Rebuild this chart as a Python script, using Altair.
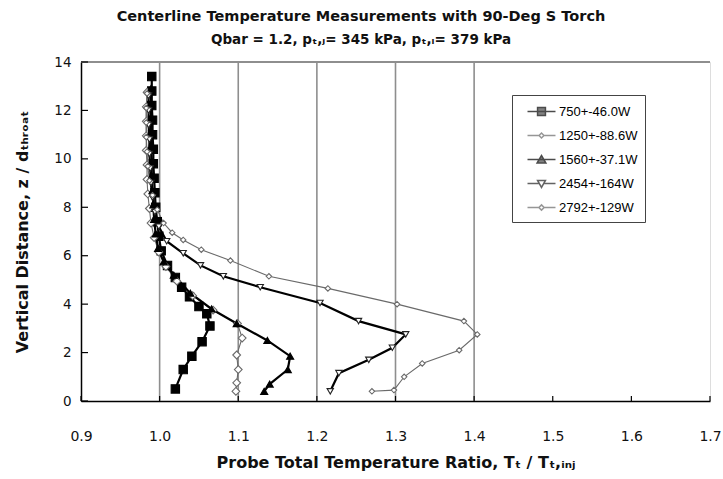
import altair as alt
import pandas as pd

# ---- data -------------------------------------------------------------
series_names = ["750+-46.0W", "1250+-88.6W", "1560+-37.1W", "2454+-164W", "2792+-129W"]

z_750 = [0.5, 1.3, 1.85, 2.45, 3.1, 3.6, 3.9, 4.3, 4.7, 5.1, 5.6, 6.2, 6.8, 7.4,
         8.0, 8.6, 9.2, 9.8, 10.4, 11.0, 11.6, 12.2, 12.8, 13.4]
t_750 = [1.020, 1.030, 1.041, 1.054, 1.064, 1.060, 1.050, 1.038, 1.028, 1.020, 1.010,
         1.002, 0.999, 0.997, 0.995, 0.994, 0.993, 0.992, 0.992, 0.991, 0.991, 0.990,
         0.990, 0.990]

z_1250 = [0.4, 0.75, 1.3, 1.9, 2.6, 3.2, 3.75, 4.35, 4.95, 5.55, 6.15, 6.75, 7.35,
          7.95, 8.55, 9.15, 9.75, 10.35, 10.95, 11.55, 12.15, 12.75]
t_1250 = [1.097, 1.098, 1.100, 1.098, 1.105, 1.099, 1.068, 1.042, 1.022, 1.008, 0.999,
          0.993, 0.989, 0.987, 0.985, 0.984, 0.984, 0.983, 0.983, 0.983, 0.983, 0.984]

z_1560 = [0.4, 0.7, 1.3, 1.85, 2.5, 3.2, 3.8, 4.45, 5.2, 5.75, 6.3, 6.9, 7.5, 8.1,
          8.7, 9.3, 9.9, 10.5, 11.1, 11.7, 12.3, 12.9]
t_1560 = [1.133, 1.140, 1.163, 1.166, 1.137, 1.098, 1.066, 1.039, 1.018, 1.005, 0.998,
          0.995, 0.993, 0.992, 0.991, 0.990, 0.990, 0.989, 0.989, 0.989, 0.989, 0.989]

z_2454 = [0.4, 1.15, 1.7, 2.2, 2.75, 3.3, 4.05, 4.7, 5.15, 5.6, 6.1, 6.6, 7.2, 7.8,
          8.4, 9.0, 9.6, 10.2, 10.8, 11.4, 12.0, 12.6]
t_2454 = [1.217, 1.228, 1.266, 1.296, 1.313, 1.253, 1.204, 1.128, 1.081, 1.052, 1.030,
          1.009, 0.999, 0.994, 0.991, 0.989, 0.988, 0.987, 0.987, 0.986, 0.986, 0.986]

z_2792 = [0.4, 0.45, 1.0, 1.55, 2.1, 2.75, 3.3, 4.0, 4.65, 5.15, 5.8, 6.25, 6.65, 6.95,
          7.35, 7.9, 8.5, 9.1, 9.7, 10.3, 10.9, 11.5, 12.1, 12.7]
t_2792 = [1.270, 1.298, 1.311, 1.334, 1.381, 1.404, 1.387, 1.302, 1.214, 1.139, 1.090,
          1.053, 1.030, 1.016, 1.005, 0.997, 0.991, 0.987, 0.985, 0.984, 0.983, 0.983,
          0.983, 0.984]

x_grid = [1.0, 1.1, 1.2, 1.3, 1.4]
x_ticks = [0.9, 1.0, 1.1, 1.2, 1.3, 1.4, 1.5, 1.6, 1.7]
y_ticks = [0, 2, 4, 6, 8, 10, 12, 14]

thick_series = ["750+-46.0W", "1560+-37.1W", "2454+-164W"]
thin_series = ["1250+-88.6W", "2792+-129W"]

title_line1 = "Centerline Temperature Measurements with 90-Deg S Torch"
title_line2 = "Qbar = 1.2, pₜ,ⱼ= 345 kPa, pₜ,ᵢ= 379 kPa"

# ---- build tables -----------------------------------------------------
rows = []
for name, zs, ts in zip(series_names,
                        [z_750, z_1250, z_1560, z_2454, z_2792],
                        [t_750, t_1250, t_1560, t_2454, t_2792]):
    for i, (z, t) in enumerate(zip(zs, ts)):
        rows.append({"series": name, "z": z, "t": t, "i": i})
df = pd.DataFrame(rows)

W, H = 629, 339
FONT = "DejaVu Sans"

xscale = alt.Scale(domain=[0.9, 1.7], nice=False, zero=False)
yscale = alt.Scale(domain=[0, 14], nice=False, zero=False)

x_axis = alt.Axis(
    values=x_ticks, format=".1f", ticks=False, tickSize=0, grid=False,
    domainColor="black", domainWidth=1.5, labelFont=FONT, labelFontSize=14,
    labelColor="#111", labelPadding=28, labelFlush=False,
    title="Probe Total Temperature Ratio, Tₜ / Tₜ,ᵢₙⱼ", titleFont=FONT,
    titleFontSize=16, titleFontWeight="bold", titleColor="#111", titlePadding=11,
)
y_axis = alt.Axis(
    values=y_ticks, format="d", ticks=False, tickSize=0, grid=False,
    domainColor="black", domainWidth=1.5, labelFont=FONT, labelFontSize=13.5,
    labelColor="#111", labelPadding=10, labelFlush=False,
    title="Vertical Distance, z / dₜₕᵣₒₐₜ", titleFont=FONT, titleFontSize=16,
    titleFontWeight="bold", titleColor="#111", titlePadding=23,
)

def X(field):
    return alt.X(field, type="quantitative", scale=xscale, axis=x_axis)

def Y(field):
    return alt.Y(field, type="quantitative", scale=yscale, axis=y_axis)

# vertical gridlines
grid_df = pd.DataFrame({"g": x_grid, "y0": [0.0] * len(x_grid), "y1": [14.0] * len(x_grid)})
grid = alt.Chart(grid_df).mark_rule(color="#8e8e8e", strokeWidth=1.6).encode(
    x=X("g"), y=Y("y0"), y2="y1")

# top border of plot area
top_df = pd.DataFrame({"x0": [0.9], "x1": [1.7], "y": [14]})
top_line = alt.Chart(top_df).mark_rule(color="#8e8e8e", strokeWidth=1.8).encode(
    x=X("x0"), x2="x1", y=Y("y"))

# inward tick marks
xt = alt.Chart(pd.DataFrame({"v": x_ticks})).mark_rule(color="black", strokeWidth=1.2).encode(
    x=X("v"), y=alt.value(H), y2=alt.value(H - 5))
yt = alt.Chart(pd.DataFrame({"v": y_ticks})).mark_rule(color="black", strokeWidth=1.2).encode(
    y=Y("v"), x=alt.value(0), x2=alt.value(7))

# series lines
lines_thick = alt.Chart(df).transform_filter(
    alt.FieldOneOfPredicate(field="series", oneOf=thick_series)
).mark_line(color="black", strokeWidth=2.2).encode(
    x=X("t"), y=Y("z"), detail="series:N", order="i:Q")

lines_thin = alt.Chart(df).transform_filter(
    alt.FieldOneOfPredicate(field="series", oneOf=thin_series)
).mark_line(color="#6a6a6a", strokeWidth=1.1).encode(
    x=X("t"), y=Y("z"), detail="series:N", order="i:Q")

# series markers
shape_range = ["square", "diamond", "triangle-up", "triangle-down", "diamond"]
fill_range = ["black", "white", "black", "white", "white"]
stroke_range = ["black", "#6a6a6a", "black", "#222222", "#6a6a6a"]
size_range = [70, 30, 70, 45, 40]

points = alt.Chart(df).mark_point(filled=True, strokeWidth=1.1, opacity=1).encode(
    x=X("t"), y=Y("z"),
    shape=alt.Shape("series:N", scale=alt.Scale(domain=series_names, range=shape_range), legend=None),
    fill=alt.Fill("series:N", scale=alt.Scale(domain=series_names, range=fill_range), legend=None),
    stroke=alt.Stroke("series:N", scale=alt.Scale(domain=series_names, range=stroke_range), legend=None),
    size=alt.Size("series:N", scale=alt.Scale(domain=series_names, range=size_range), legend=None),
)

# legend symbols: a short line with the series marker on it
legend_paths = [
    "M-1.6,0H1.6M-0.45,-0.45H0.45V0.45H-0.45Z",
    "M-1.6,0H-0.28M0.28,0H1.6M-0.28,0L0,-0.28L0.28,0L0,0.28Z",
    "M-1.6,0H1.6M-0.5,0.4L0,-0.45L0.5,0.4Z",
    "M-1.6,0H-0.26M0.26,0H1.6M-0.45,-0.35L0.45,-0.35L0,0.45Z",
    "M-1.6,0H-0.3M0.3,0H1.6M-0.3,0L0,-0.3L0.3,0L0,0.3Z",
]

leg = alt.Legend(
    title=None, orient="none", legendX=431, legendY=33, direction="vertical",
    strokeColor="#444", fillColor="white", padding=7, symbolOffset=13,
    symbolSize=306, symbolStrokeWidth=1.5, labelFont="Liberation Sans",
    labelFontSize=13, labelColor="black", labelOffset=8, rowPadding=7,
    symbolLimit=0,
    labelExpr="datum.label == '750+-46.0W' ? '\u2007' + datum.label : datum.label",
)

legend_layer = alt.Chart(pd.DataFrame({"series": series_names})).mark_point(
    filled=True, size=306, strokeWidth=1.5
).encode(
    x=alt.value(-400), y=alt.value(-400),
    shape=alt.Shape("series:N", scale=alt.Scale(domain=series_names, range=legend_paths), legend=leg),
    fill=alt.Fill("series:N", scale=alt.Scale(domain=series_names, range=fill_range), legend=leg),
    stroke=alt.Stroke("series:N", scale=alt.Scale(domain=series_names, range=stroke_range), legend=leg),
)

# two-line heading above the plot
head_df = pd.DataFrame({"txt": [title_line1]})
head1 = alt.Chart(head_df).mark_text(
    font=FONT, fontSize=14.5, fontWeight="bold", color="#111", align="center",
    baseline="middle"
).encode(text="txt:N", x=alt.value(280), y=alt.value(-45))
head_df2 = pd.DataFrame({"txt": [title_line2]})
head2 = alt.Chart(head_df2).mark_text(
    font=FONT, fontSize=13.5, fontWeight="bold", color="#111", align="center",
    baseline="middle"
).encode(text="txt:N", x=alt.value(280), y=alt.value(-22))

chart = alt.layer(
    grid, top_line, xt, yt, lines_thin, lines_thick, points, legend_layer, head1, head2
).resolve_scale(
    shape="independent", fill="independent", stroke="independent", size="independent"
).properties(
    width=W, height=H,
    padding={"left": 81, "top": 62, "right": 13, "bottom": 78},
    autosize=alt.AutoSizeParams(type="none"),
).configure_view(stroke=None).configure(background="white")

chart.save("out.html", embed_options={"renderer": "svg", "actions": False})
